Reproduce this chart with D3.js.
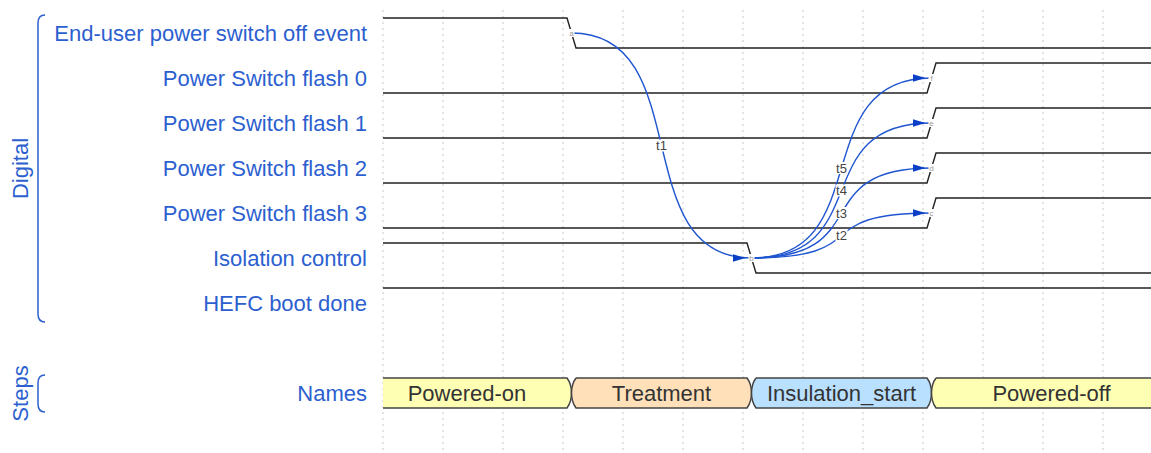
<!DOCTYPE html>
<html>
<head>
<meta charset="utf-8">
<script src="https://cdn.jsdelivr.net/npm/d3@7"></script>
<style>
  body { margin: 0; background: #fff; }
  svg { display: block; font-family: "Liberation Sans", Arial, Helvetica, sans-serif; }
</style>
</head>
<body>
<svg id="chart-svg" width="1151" height="453"></svg>
<script>
// lanes of the "Digital" group, wavedrom style strings (one char per period)
const digitalLabels = [
    'End-user power switch off event',
    'Power Switch flash 0',
    'Power Switch flash 1',
    'Power Switch flash 2',
    'Power Switch flash 3',
    'Isolation control',
    'HEFC boot done'
];
const digitalWaves = [
    '1..0.........',
    '0........1...',
    '0........1...',
    '0........1...',
    '0........1...',
    '1.....0......',
    '1............'
];

// "Steps" group
const stepLabel = 'Names';
const stepNames = ['Powered-on', 'Treatment', 'Insulation_start', 'Powered-off'];
const stepStarts = [0, 3, 6, 9];
const stepColors = ['#ffffb4', '#ffe0b9', '#b9e0ff', '#ffffb4'];

// nodes sit on the edges, arrows go between them
const nodes = [
    { id: 'a', lane: 0, t: 3 },
    { id: 'b', lane: 5, t: 6 },
    { id: 'c', lane: 4, t: 9 },
    { id: 'd', lane: 3, t: 9 },
    { id: 'e', lane: 2, t: 9 },
    { id: 'f', lane: 1, t: 9 }
];
const edges = [
    ['a', 'b', 't1'],
    ['b', 'c', 't2'],
    ['b', 'd', 't3'],
    ['b', 'e', 't4'],
    ['b', 'f', 't5']
];

const periods = 13;
const stepLane = 8;   // lane 7 is the empty gap

const blue = '#2c5fcf';
const arcColor = '#1f55d0';
const headColor = '#0b3fc8';
const laneH = 30;

const svg = d3.select('#chart-svg');

let x = d3.scaleLinear().domain([0, periods]).range([383, 383 + 60 * periods]);
let laneTop = d3.scaleLinear().domain([0, stepLane]).range([18, 378]);

// edge slope inside a period
const slopeA = 4, slopeB = 13, slopeMid = 8.5;

// grid
svg.append('g').selectAll('line')
    .data(d3.range(0, periods + 1))
    .enter().append('line')
    .attr('x1', d => x(d)).attr('x2', d => x(d))
    .attr('y1', 10).attr('y2', 452)
    .attr('stroke', '#c8c8c8')
    .attr('stroke-dasharray', '2,4');

// lane labels
let labels = svg.append('g')
    .attr('font-size', 22)
    .attr('fill', blue)
    .attr('text-anchor', 'end');

labels.selectAll('text')
    .data(digitalLabels.concat([stepLabel]))
    .enter().append('text')
    .attr('x', 367)
    .attr('y', (d, i) => laneTop(i < digitalLabels.length ? i : stepLane) + laneH / 2)
    .attr('dy', '0.35em')
    .text(d => d);

// group labels + brackets
function group(name, y0, y1) {
    let g = svg.append('g');
    let cy = (y0 + y1) / 2;
    g.append('text')
        .attr('transform', 'translate(20,' + cy + ') rotate(-90)')
        .attr('text-anchor', 'middle')
        .attr('dy', '0.35em')
        .attr('font-size', 22)
        .attr('fill', blue)
        .text(name);
    g.append('path')
        .attr('d', 'M45,' + y0 + ' C40,' + y0 + ' 38,' + (y0 + 3) + ' 38,' + (y0 + 8) +
            ' V' + (y1 - 8) + ' C38,' + (y1 - 3) + ' 40,' + y1 + ' 45,' + y1)
        .attr('fill', 'none')
        .attr('stroke', blue)
        .attr('stroke-width', 1.5);
}
group('Digital', laneTop(0) - 3, laneTop(digitalLabels.length - 1) + laneH + 4);
group('Steps', laneTop(stepLane) - 3, laneTop(stepLane) + laneH + 4);

// digital waves
function wavePath(wave, y0) {
    let level = wave[0];
    let yOf = l => l === '1' ? y0 : y0 + laneH;
    let p = d3.path();
    p.moveTo(x(0), yOf(level));
    for (let t = 1; t < wave.length; t++) {
        let c = wave[t];
        if (c === '.' || c === level) continue;
        p.lineTo(x(t) + slopeA, yOf(level));
        p.lineTo(x(t) + slopeB, yOf(c));
        level = c;
    }
    p.lineTo(x(periods), yOf(level));
    return p.toString();
}

svg.append('g').selectAll('path')
    .data(digitalWaves)
    .enter().append('path')
    .attr('d', (d, i) => wavePath(d, laneTop(i)))
    .attr('fill', 'none')
    .attr('stroke', '#222')
    .attr('stroke-width', 1.4);

// step boxes
const stepTop = laneTop(stepLane), stepBot = stepTop + laneH, stepMid = stepTop + laneH / 2;

function stepPath(i) {
    let s = stepStarts[i];
    let e = i < stepStarts.length - 1 ? stepStarts[i + 1] : null;
    let left = i === 0 ? x(0) : x(s) + slopeB;
    let right = e === null ? x(periods) : x(e) + slopeA;
    let p = d3.path();
    p.moveTo(left, stepTop);
    p.lineTo(right, stepTop);
    if (e === null) {
        p.lineTo(right, stepBot);
    } else {
        let mx = x(e) + slopeMid;
        p.quadraticCurveTo(mx, stepTop + 6, mx, stepMid);
        p.quadraticCurveTo(mx, stepBot - 6, right, stepBot);
    }
    p.lineTo(left, stepBot);
    if (i > 0) {
        let mx = x(s) + slopeMid;
        p.quadraticCurveTo(mx, stepBot - 6, mx, stepMid);
        p.quadraticCurveTo(mx, stepTop + 6, left, stepTop);
    }
    return p.toString();
}

let steps = svg.append('g');
steps.selectAll('path')
    .data(stepNames)
    .enter().append('path')
    .attr('d', (d, i) => stepPath(i))
    .attr('fill', (d, i) => stepColors[i])
    .attr('stroke', '#444')
    .attr('stroke-width', 1.5);

steps.selectAll('text')
    .data(stepNames)
    .enter().append('text')
    .attr('x', (d, i) => {
        let e = i < stepStarts.length - 1 ? stepStarts[i + 1] : periods;
        return x((stepStarts[i] + e) / 2) + (i === 0 ? -6 : slopeMid);
    })
    .attr('y', stepMid)
    .attr('dy', '0.35em')
    .attr('text-anchor', 'middle')
    .attr('font-size', 22)
    .attr('fill', '#333')
    .text(d => d);

// arrows
let defs = svg.append('defs');
defs.append('marker')
    .attr('id', 'arrow')
    .attr('markerUnits', 'userSpaceOnUse')
    .attr('viewBox', '0 0 13 8')
    .attr('markerWidth', 13)
    .attr('markerHeight', 8)
    .attr('refX', 19)
    .attr('refY', 4)
    .attr('orient', 'auto')
    .append('path')
    .attr('d', 'M0,0 L13,4 L0,8 z')
    .attr('fill', headColor);

let nodePos = {};
nodes.forEach(n => {
    nodePos[n.id] = { x: x(n.t) + slopeMid, y: laneTop(n.lane) + laneH / 2 };
});

let arcs = edges.map(([from, to, label]) => {
    let a = nodePos[from], b = nodePos[to];
    let dx = b.x - a.x;
    let c1 = { x: a.x + 0.7 * dx, y: a.y };
    let c2 = { x: a.x + 0.3 * dx, y: b.y };
    return {
        d: 'M' + a.x + ',' + a.y + ' C' + c1.x + ',' + c1.y + ' ' + c2.x + ',' + c2.y + ' ' + b.x + ',' + b.y,
        lx: (a.x + 3 * c1.x + 3 * c2.x + b.x) / 8,
        ly: (a.y + 3 * c1.y + 3 * c2.y + b.y) / 8,
        label: label
    };
});

svg.append('g').selectAll('path')
    .data(arcs)
    .enter().append('path')
    .attr('d', d => d.d)
    .attr('fill', 'none')
    .attr('stroke', arcColor)
    .attr('stroke-width', 1.4)
    .attr('marker-end', 'url(#arrow)');

// node names (tiny, grey)
let ng = svg.append('g');
ng.selectAll('rect')
    .data(nodes)
    .enter().append('rect')
    .attr('x', d => nodePos[d.id].x - 3)
    .attr('y', d => nodePos[d.id].y - 4)
    .attr('width', 6).attr('height', 8)
    .attr('fill', '#fff');
ng.selectAll('text')
    .data(nodes)
    .enter().append('text')
    .attr('x', d => nodePos[d.id].x)
    .attr('y', d => nodePos[d.id].y)
    .attr('dy', '0.35em')
    .attr('text-anchor', 'middle')
    .attr('font-size', 8)
    .attr('fill', '#999')
    .text(d => d.id);

// edge labels
let lg = svg.append('g');
lg.selectAll('rect')
    .data(arcs)
    .enter().append('rect')
    .attr('x', d => d.lx - 6)
    .attr('y', d => d.ly - 6)
    .attr('width', 12).attr('height', 12)
    .attr('fill', '#fff');
lg.selectAll('text')
    .data(arcs)
    .enter().append('text')
    .attr('x', d => d.lx)
    .attr('y', d => d.ly)
    .attr('dy', '0.35em')
    .attr('text-anchor', 'middle')
    .attr('font-size', 13)
    .attr('fill', '#444')
    .text(d => d.label);
</script>
</body>
</html>
